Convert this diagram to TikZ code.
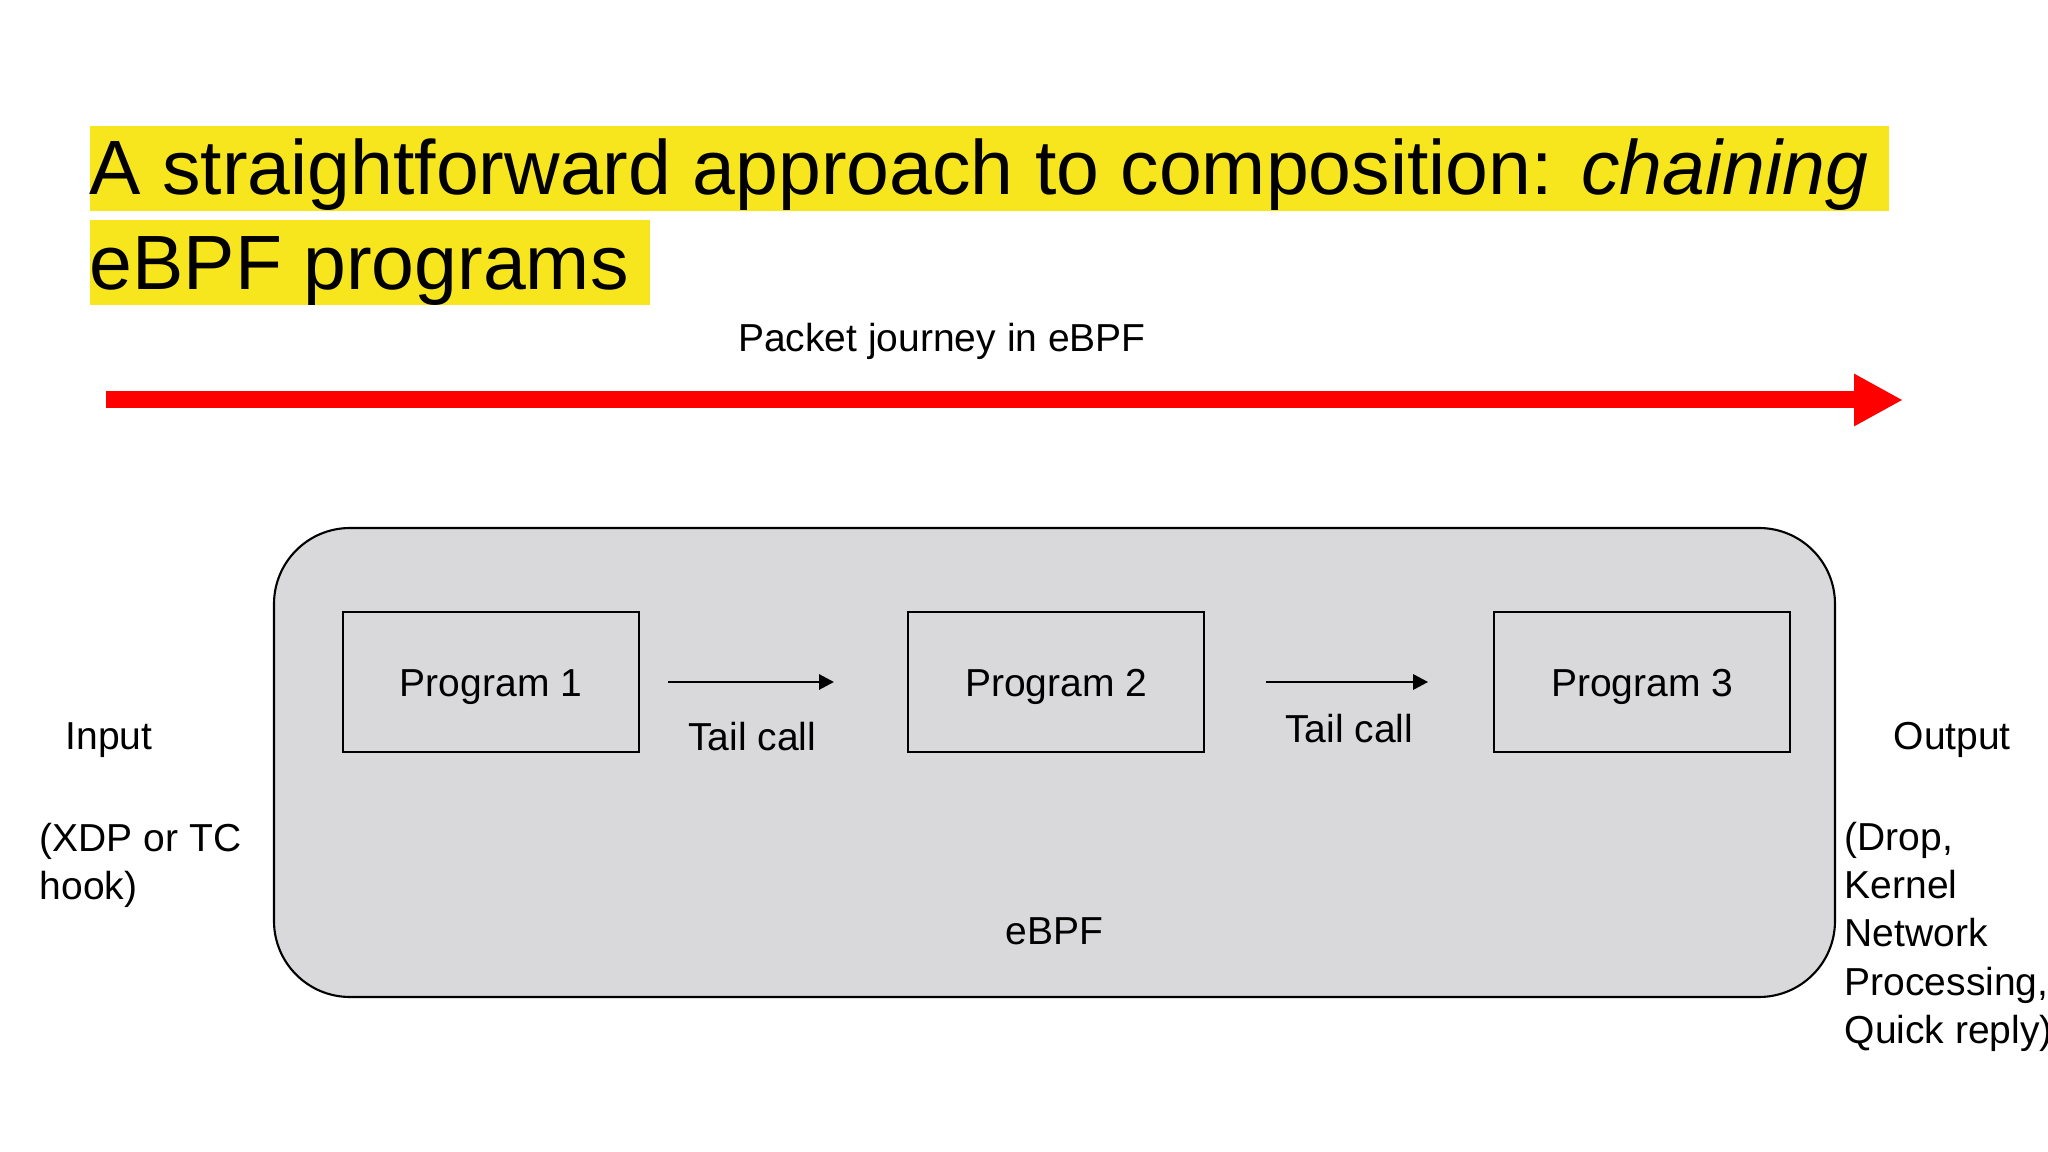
\documentclass[tikz,border=0pt]{standalone}
\usepackage{fontspec}
\setmainfont{Liberation Sans}
\usetikzlibrary{positioning,arrows.meta}
\definecolor{titleyellow}{RGB}{247,230,30}
\definecolor{boxgray}{RGB}{217,216,218}
\definecolor{journeyred}{RGB}{255,0,0}

\begin{document}
\begin{tikzpicture}[
  txt/.style={font=\fontsize{11.1}{13.66}\selectfont, inner sep=0pt},
  titlebar/.style={fill=titleyellow, inner sep=0pt, font=\fontsize{21.9}{26.5}\selectfont, text height=0.69cm, text depth=0.16cm},
  ebpfbox/.style={draw, line width=0.6pt, fill=boxgray, rounded corners=0.76cm, minimum width=15.61cm, minimum height=4.69cm},
  prog/.style={draw, line width=0.6pt, minimum width=2.96cm, minimum height=1.40cm, txt, text height=0.28cm, text depth=0cm},
  tailcall/.style={-{Triangle[length=0.15cm,width=0.15cm]}, line width=0.8pt},
  journey/.style={journeyred, line width=0.17cm, -{Triangle[length=0.49cm,width=0.49cm]}}]

  \useasboundingbox[fill=white] (0,0) rectangle (20.48,-11.52);

  % title
  \node[titlebar, anchor=north west] (title1) at (0.89,-1.25) {A straightforward approach to composition: \textit{chaining}\hspace*{0.21cm}};
  \node[titlebar] (title2) [below = 0.08cm of title1.south west, anchor=north west] {eBPF programs\hspace*{0.21cm}};

  \node[txt, anchor=base] (journeylabel) at (9.42,-3.52) {Packet journey in eBPF};
  \coordinate (jstart) at (1.06,-4.00);
  \coordinate (jend) at (19.03,-4.00);
  \draw[journey] (jstart) -- (jend);

  \node[ebpfbox] (ebpf) at (10.545,-7.625) {};
  \node[txt] (ebpflabel) [above = 0.52cm of ebpf.south] {eBPF};

  \node[prog] (prog1) at (4.91,-6.82) {Program 1};
  \node[prog] (prog2) [right = 2.67cm of prog1] {Program 2};
  \node[prog] (prog3) [right = 2.88cm of prog2] {Program 3};

  \path (prog1) edge[tailcall, shorten <=0.28cm, shorten >=0.73cm] node[txt, pos=0.42, below=0.39cm] {Tail call} (prog2)
        (prog2) edge[tailcall, shorten <=0.61cm, shorten >=0.65cm] node[txt, below=0.31cm] {Tail call} (prog3);

  % hook and verdict
  \node[txt, anchor=base west] (input) at (0.65,-7.50) {Input};
  \node[txt, anchor=north west, align=left] (hook) at (0.39,-8.23) {(XDP or TC\\hook)};
  \node[txt, anchor=base west] (output) at (18.93,-7.49) {Output};
  \node[txt, anchor=north west, align=left] (verdict) at (18.44,-8.22) {(Drop,\\Kernel\\Network\\Processing,\\Quick reply)};

\end{tikzpicture}
\end{document}
